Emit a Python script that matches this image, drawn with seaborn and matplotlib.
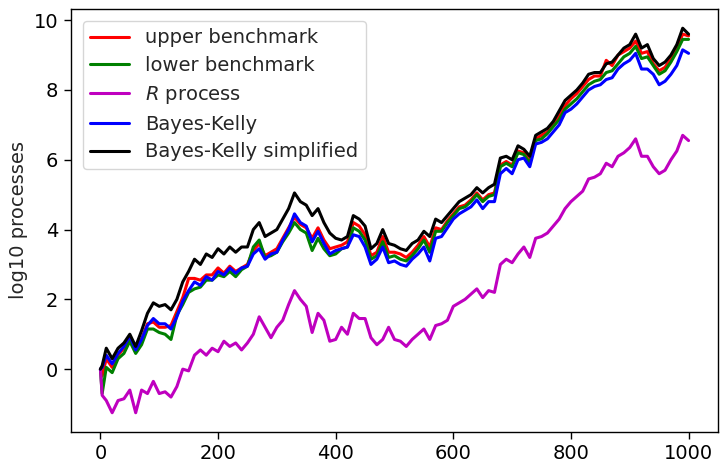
import numpy as np
import pandas as pd
import matplotlib
matplotlib.use("Agg")
import matplotlib.pyplot as plt
import seaborn as sns

# time steps
steps = [0, 3] + list(range(10, 1001, 10))

upper_benchmark = [0.0, -0.2,
    0.3, 0.05, 0.4, 0.6, 0.85, 0.5, 0.85, 1.3, 1.35, 1.2,
    1.2, 1.25, 1.65, 2.05, 2.6, 2.6, 2.55, 2.7, 2.7, 2.9,
    2.75, 2.95, 2.8, 2.9, 3.0, 3.4, 3.6, 3.25, 3.35, 3.45,
    3.75, 4.05, 4.35, 4.15, 4.05, 3.75, 4.05, 3.7, 3.45, 3.5,
    3.55, 3.65, 4.2, 4.1, 3.85, 3.25, 3.35, 3.8, 3.35, 3.35,
    3.3, 3.2, 3.35, 3.55, 3.8, 3.5, 4.05, 4.0, 4.25, 4.45,
    4.65, 4.7, 4.85, 5.05, 4.85, 5.0, 5.05, 5.85, 5.95, 5.85,
    6.25, 6.2, 5.95, 6.6, 6.7, 6.8, 7.0, 7.25, 7.55, 7.75,
    7.9, 8.1, 8.3, 8.4, 8.4, 8.85, 8.7, 9.0, 9.1, 9.2,
    9.4, 9.05, 9.1, 8.75, 8.55, 8.65, 8.9, 9.2, 9.6, 9.55]

lower_benchmark = [0.0, -0.7,
    0.05, -0.1, 0.3, 0.45, 0.8, 0.45, 0.7, 1.15, 1.15, 1.05,
    1.0, 0.85, 1.55, 1.85, 2.2, 2.3, 2.35, 2.55, 2.55, 2.7,
    2.65, 2.8, 2.65, 2.85, 2.95, 3.5, 3.7, 3.2, 3.25, 3.35,
    3.65, 3.9, 4.2, 4.0, 3.9, 3.4, 3.75, 3.45, 3.25, 3.3,
    3.45, 3.5, 4.05, 3.95, 3.7, 3.15, 3.25, 3.65, 3.2, 3.25,
    3.15, 3.1, 3.25, 3.45, 3.7, 3.35, 3.95, 3.95, 4.2, 4.4,
    4.6, 4.65, 4.8, 5.0, 4.8, 4.95, 5.0, 5.8, 5.9, 5.8,
    6.2, 6.15, 5.9, 6.55, 6.6, 6.75, 6.95, 7.15, 7.45, 7.6,
    7.75, 7.95, 8.15, 8.25, 8.3, 8.5, 8.55, 8.75, 8.95, 9.05,
    9.25, 8.9, 8.95, 8.7, 8.45, 8.55, 8.8, 9.1, 9.45, 9.45]

r_process = [0.0, -0.75,
    -0.9, -1.25, -0.9, -0.85, -0.6, -1.25, -0.6, -0.7, -0.35, -0.7,
    -0.65, -0.8, -0.5, 0.0, -0.05, 0.4, 0.55, 0.4, 0.6, 0.5,
    0.8, 0.65, 0.75, 0.55, 0.75, 1.0, 1.5, 1.2, 0.9, 1.2,
    1.4, 1.85, 2.25, 2.0, 1.8, 1.05, 1.6, 1.4, 0.8, 0.85,
    1.2, 1.0, 1.6, 1.45, 1.45, 0.9, 0.7, 0.85, 1.2, 0.85,
    0.8, 0.65, 0.85, 1.0, 1.15, 0.85, 1.25, 1.3, 1.4, 1.8,
    1.9, 2.0, 2.15, 2.3, 2.05, 2.25, 2.2, 3.0, 3.15, 3.05,
    3.3, 3.5, 3.2, 3.75, 3.8, 3.9, 4.1, 4.3, 4.6, 4.8,
    4.95, 5.1, 5.45, 5.5, 5.6, 5.9, 5.8, 6.1, 6.2, 6.35,
    6.6, 6.1, 6.1, 5.8, 5.6, 5.7, 6.0, 6.25, 6.7, 6.55]

bayes_kelly = [0.0, 0.05,
    0.4, 0.15, 0.45, 0.65, 0.95, 0.55, 0.85, 1.25, 1.45, 1.3,
    1.3, 1.15, 1.5, 1.95, 2.25, 2.5, 2.4, 2.65, 2.55, 2.8,
    2.7, 2.9, 2.75, 2.9, 2.95, 3.3, 3.45, 3.15, 3.3, 3.35,
    3.7, 4.0, 4.45, 4.2, 4.1, 3.65, 3.95, 3.6, 3.3, 3.4,
    3.45, 3.5, 3.85, 3.8, 3.5, 3.0, 3.15, 3.5, 3.05, 3.1,
    3.0, 2.95, 3.15, 3.3, 3.5, 3.1, 3.75, 3.8, 4.05, 4.3,
    4.45, 4.55, 4.65, 4.85, 4.6, 4.8, 4.8, 5.6, 5.75, 5.6,
    6.0, 6.05, 5.8, 6.45, 6.5, 6.6, 6.8, 7.0, 7.35, 7.45,
    7.6, 7.8, 8.0, 8.1, 8.15, 8.3, 8.35, 8.6, 8.75, 8.85,
    9.05, 8.6, 8.6, 8.45, 8.15, 8.25, 8.45, 8.7, 9.15, 9.05]

bayes_kelly_simplified = [0.0, 0.1,
    0.6, 0.3, 0.6, 0.75, 1.0, 0.65, 1.1, 1.6, 1.9, 1.8,
    1.85, 1.7, 2.0, 2.5, 2.8, 3.15, 3.0, 3.3, 3.2, 3.45,
    3.3, 3.5, 3.35, 3.5, 3.5, 4.0, 4.2, 3.8, 3.9, 4.0,
    4.3, 4.6, 5.05, 4.8, 4.7, 4.4, 4.6, 4.2, 3.9, 3.75,
    3.7, 3.8, 4.4, 4.3, 4.1, 3.45, 3.6, 4.0, 3.6, 3.55,
    3.45, 3.4, 3.6, 3.7, 3.95, 3.8, 4.3, 4.2, 4.4, 4.6,
    4.8, 4.9, 5.0, 5.2, 5.05, 5.2, 5.3, 6.05, 6.1, 6.0,
    6.4, 6.3, 6.1, 6.7, 6.8, 6.9, 7.1, 7.4, 7.7, 7.85,
    8.0, 8.2, 8.45, 8.5, 8.5, 8.75, 8.8, 9.0, 9.2, 9.3,
    9.6, 9.2, 9.3, 8.9, 8.7, 8.8, 9.0, 9.3, 9.77, 9.6]

series_labels = ["upper benchmark", "lower benchmark", "$R$ process",
                 "Bayes-Kelly", "Bayes-Kelly simplified"]
series_values = [upper_benchmark, lower_benchmark, r_process,
                 bayes_kelly, bayes_kelly_simplified]
series_colors = ["r", "g", "m", "b", "k"]

sns.set_style("ticks")
plt.rcParams["font.family"] = ["DejaVu Sans"]
plt.rcParams["axes.edgecolor"] = "black"
plt.rcParams["xtick.color"] = "black"
plt.rcParams["ytick.color"] = "black"

fig = plt.figure(figsize=(7.2, 4.63), dpi=100)
ax = fig.add_axes([0.0986, 0.067, 0.8986, 0.9136])

for lab, vals, col in zip(series_labels, series_values, series_colors):
    df = pd.DataFrame({"step": steps, "value": vals})
    sns.lineplot(data=df, x="step", y="value", color=col, label=lab,
                 linewidth=2.2, ax=ax, sort=False)

ax.set_xlabel("")
ax.set_ylabel("log10 processes", fontsize=14)
ax.set_xticks([0, 200, 400, 600, 800, 1000])
ax.set_yticks([0, 2, 4, 6, 8, 10])
ax.tick_params(labelsize=14, length=5, width=1, direction="out", pad=4)
for s in ax.spines.values():
    s.set_visible(True)
    s.set_color("black")
    s.set_linewidth(1)
ax.legend(loc="upper left", fontsize=14, frameon=True, fancybox=True,
          framealpha=0.8, edgecolor="#cccccc", handlelength=2,
          borderaxespad=0.6, labelspacing=0.45)

fig.savefig("out.png", dpi=100)
